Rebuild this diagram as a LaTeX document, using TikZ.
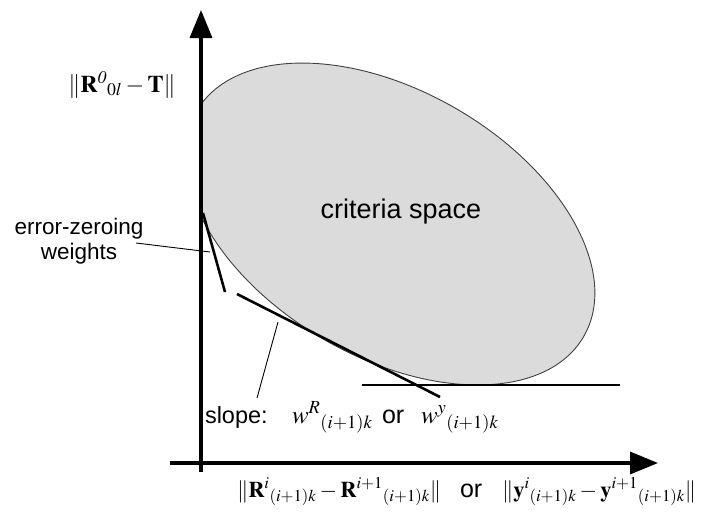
\documentclass[tikz,border=0pt]{standalone}
\usepackage{mathptmx}
\usepackage{fontspec}
\setmainfont{Liberation Sans}
\usetikzlibrary{arrows.meta}
\tikzset{
  axis/.style={line width=3.5pt,-{Triangle[length=28pt,width=22pt]}},
  tangent/.style={line width=2.6pt},
  leader/.style={line width=0.9pt},
  region/.style={fill=black!14,draw=black!75,line width=0.9pt},
  lbl/.style={inner sep=0pt,outer sep=0pt},
  bw/.style={lbl,anchor=base west}
}
\begin{document}
\begin{tikzpicture}[x=1pt,y=-1pt]
\useasboundingbox (0,0) rectangle (707,512);
% criteria space
\begin{scope}
  \clip (201,0) rectangle (707,512);
  \path[region,shift={(390,224)},rotate=-30.2] (0,0) ellipse [x radius=224, y radius=133];
\end{scope}
\node[lbl,anchor=base,font=\fontsize{27}{30}\selectfont] (cs) at (401,218) {criteria space};
% axes
\coordinate (o1) at (201,472);
\coordinate (ytip) at (201,10);
\coordinate (o2) at (170,463);
\coordinate (xtip) at (658,463);
\draw[axis] (o1) -- (ytip);
\draw[axis] (o2) -- (xtip);
% tangent lines
\coordinate (e1) at (203,213);
\coordinate (e2) at (225,292);
\coordinate (s1) at (237,294);
\coordinate (s2) at (440,397);
\coordinate (h1) at (362,385);
\coordinate (h2) at (620,385);
\draw[tangent] (e1) -- (e2);
\draw[tangent] (s1) -- (s2);
\draw[line width=2pt] (h1) -- (h2);
% labels
\node[lbl,anchor=base,font=\fontsize{24}{26}\selectfont] (yl) at (122,92)
  {$\|\mathbf{R}^{\mathit{0}}{}_{0l}-\mathbf{T}\|$};
\node[lbl,align=center,font=\fontsize{22.5}{25}\selectfont] (ez) at (79,241)
  {error-zeroing\\weights};
\node[bw,font=\fontsize{23.5}{26}\selectfont] (sl) at (205,423) {slope:};
\node[bw,font=\fontsize{25}{27}\selectfont] (wr) at (292,423) {$w^{R}{}_{(i+1)k}$};
\node[bw,font=\fontsize{25}{27}\selectfont] (or1) at (382,423) {or};
\node[bw,font=\fontsize{25}{27}\selectfont] (wy) at (421,423) {$w^{y}{}_{(i+1)k}$};
\node[bw,font=\fontsize{22.5}{25}\selectfont] (xl1) at (237,497)
  {$\|\mathbf{R}^{i}{}_{(i+1)k}-\mathbf{R}^{i+1}{}_{(i+1)k}\|$};
\node[bw,font=\fontsize{25}{27}\selectfont] (or2) at (460,497) {or};
\node[bw,font=\fontsize{22.5}{25}\selectfont] (xl2) at (502,497)
  {$\|\mathbf{y}^{i}{}_{(i+1)k}-\mathbf{y}^{i+1}{}_{(i+1)k}\|$};
% leader lines
\coordinate (ez1) at (136,243);
\coordinate (ez2) at (210,252);
\coordinate (sl1) at (257,398);
\coordinate (sl2) at (278,322);
\draw[leader] (ez1) -- (ez2);
\draw[leader] (sl1) -- (sl2);
\end{tikzpicture}
\end{document}
